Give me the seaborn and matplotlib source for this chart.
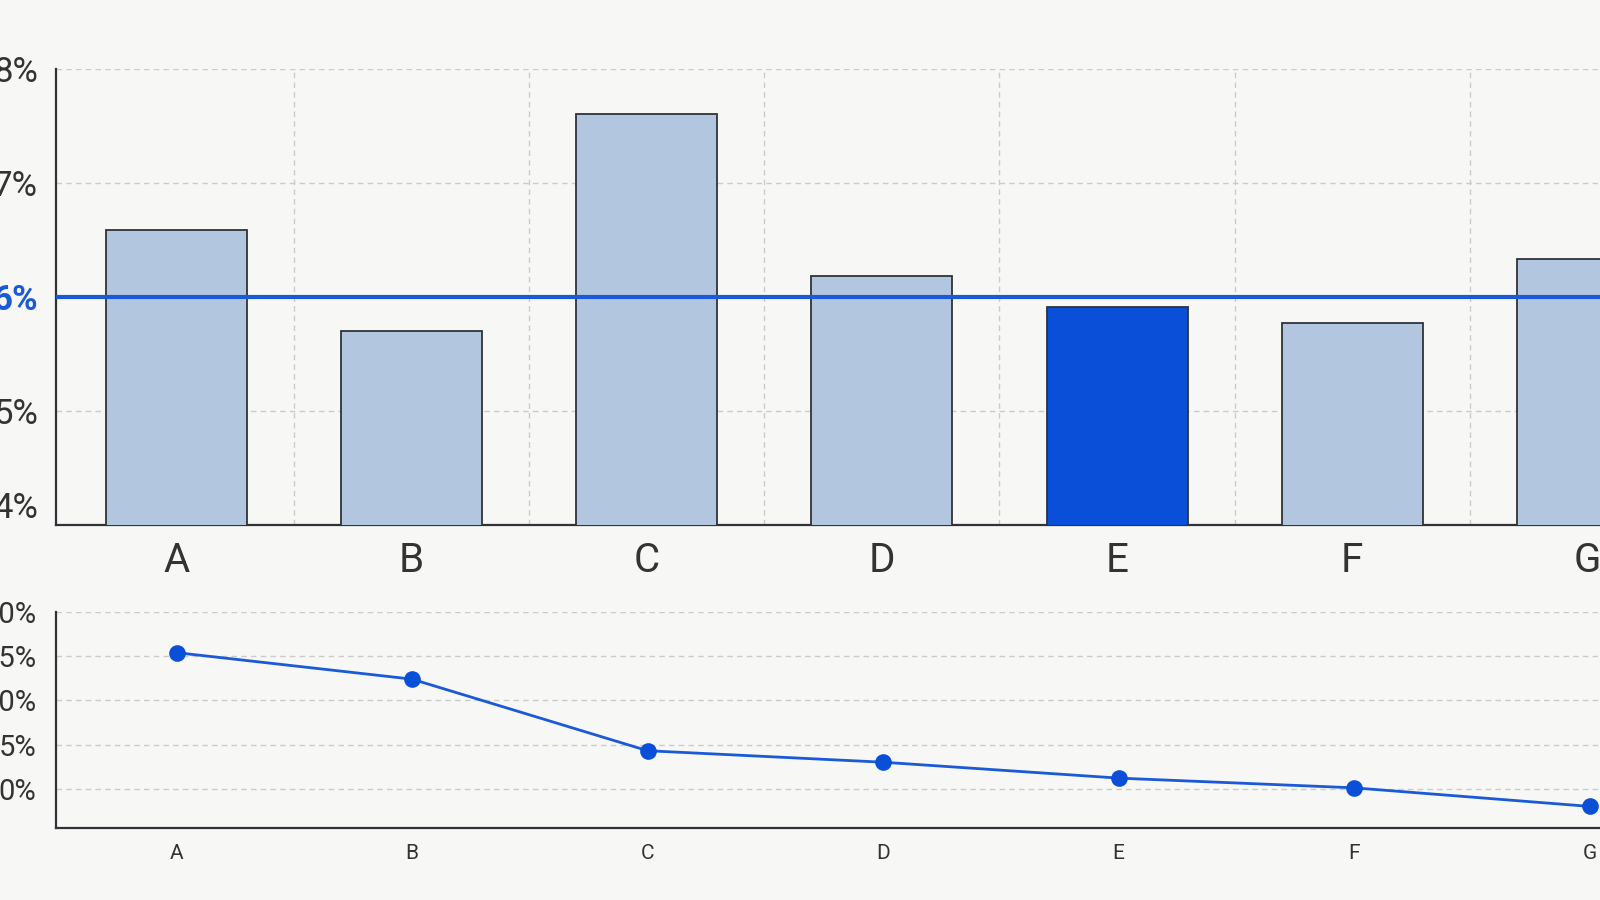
import matplotlib
matplotlib.use("Agg")
import matplotlib.pyplot as plt
import seaborn as sns
import numpy as np

categories = ["A", "B", "C", "D", "E", "F", "G"]
bar_values = [6.59, 5.70, 7.61, 6.18, 5.91, 5.77, 6.33]
target_value = 6.0
highlight = "E"
line_values = [15.4, 12.4, 4.3, 3.0, 1.2, 0.1, -2.0]
top_ticks = [4, 5, 6, 7, 8]
bottom_ticks = [0, 5, 10, 15, 20]

sns.set_theme(style="white")
plt.rcParams["font.family"] = ["Roboto", "DejaVu Sans"]

BG = "#f7f7f5"
BAR = "#b3c6e0"
HI = "#0a4fd8"
BLUE = "#1a5ad8"
EDGE = "#2f3338"
GRID = "#cbcbcb"

fig = plt.figure(figsize=(16, 9), dpi=100, facecolor=BG)

# axes extend beyond the right edge of the canvas (reference is cropped)
unit = 235.5 / 1600.0
left = 56.0 / 1600.0
xlim = (-0.512, 6.49)
width = (xlim[1] - xlim[0]) * unit

ax1 = fig.add_axes([left, 1 - 524.5 / 900, width, (524.5 - 69.4) / 900])
ax2 = fig.add_axes([left, 1 - 827.6 / 900, width, (827.6 - 612.0) / 900])
for ax in (ax1, ax2):
    ax.set_facecolor(BG)
    ax.patch.set_alpha(0)

palette = {c: (HI if c == highlight else BAR) for c in categories}
sns.barplot(x=categories, y=bar_values, hue=categories, palette=palette,
            legend=False, width=0.6, edgecolor=EDGE, linewidth=1.3,
            saturation=1, ax=ax1, zorder=3)
ax1.set_xlim(*xlim)
ax1.set_ylim(top_ticks[0], top_ticks[-1])
ax1.set_yticks(top_ticks)
ax1.set_yticklabels([f"{t}%" for t in top_ticks])
ax1.set_xticks(range(len(categories)))
ax1.set_xticklabels(categories)
ax1.set_xticks(np.arange(len(categories)) + 0.5, minor=True)
ax1.grid(axis="y", which="major", color=GRID, linestyle=(0, (4, 3)), linewidth=1, zorder=0)
ax1.grid(axis="x", which="minor", color=GRID, linestyle=(0, (4, 3)), linewidth=1, zorder=0)
ax1.set_axisbelow(True)
ax1.axhline(target_value, color=BLUE, linewidth=3, zorder=5)
ax1.tick_params(axis="y", direction="in", length=12, width=1.3, color=EDGE,
                labelsize=25, labelcolor="#333333", pad=13)
ax1.tick_params(axis="x", which="both", length=0, labelsize=29,
                labelcolor="#333333", pad=12)
for lab, t in zip(ax1.get_yticklabels(), top_ticks):
    if t == target_value:
        lab.set_color(BLUE)
        lab.set_fontweight("bold")
    if t == top_ticks[0]:
        lab.set_verticalalignment("bottom")
ax1.set_xlabel("")
ax1.set_ylabel("")
sns.despine(ax=ax1, top=True, right=True)
for s in ("left", "bottom"):
    ax1.spines[s].set_color(EDGE)
    ax1.spines[s].set_linewidth(1.6)

xs = np.arange(len(categories))
sns.lineplot(x=xs, y=line_values, ax=ax2, color=BLUE, linewidth=2,
             marker="o", markersize=12, markeredgewidth=0,
             markerfacecolor=HI, zorder=4)
ax2.set_xlim(*xlim)
ax2.set_ylim(-4.4, 20)
ax2.set_yticks(bottom_ticks)
ax2.set_yticklabels([f"{t}%" for t in bottom_ticks])
ax2.set_xticks(xs)
ax2.set_xticklabels(categories)
ax2.grid(axis="y", color=GRID, linestyle=(0, (4, 3)), linewidth=1, zorder=0)
ax2.grid(axis="x", visible=False)
ax2.set_axisbelow(True)
ax2.tick_params(axis="y", direction="in", length=12, width=1.3, color=EDGE,
                labelsize=21, labelcolor="#333333", pad=14)
ax2.tick_params(axis="x", length=0, labelsize=15, labelcolor="#333333", pad=12)
sns.despine(ax=ax2, top=True, right=True)
for s in ("left", "bottom"):
    ax2.spines[s].set_color(EDGE)
    ax2.spines[s].set_linewidth(1.6)

fig.savefig("out.png", dpi=100, facecolor=BG)
